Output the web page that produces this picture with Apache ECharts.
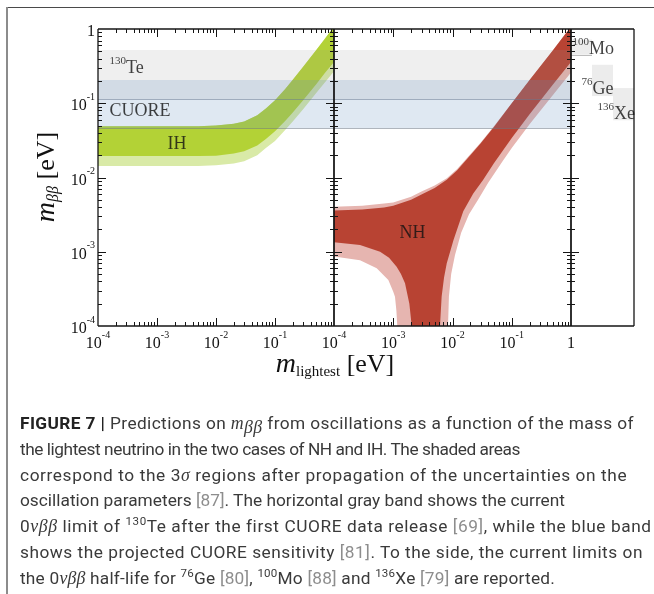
<!DOCTYPE html>
<html><head><meta charset="utf-8">
<script src="https://cdn.jsdelivr.net/npm/echarts@6/dist/echarts.min.js"></script>
<style>
html,body{margin:0;padding:0;background:#fff;}
#wrap{position:relative;width:654px;height:594px;overflow:hidden;background:#fff;}
#chart{position:absolute;left:0;top:0;width:654px;height:594px;}
#frameTop{position:absolute;left:7px;top:7px;width:647px;height:1px;background:#4a4a4a;}
#frameLeft{position:absolute;left:6px;top:7px;width:2px;height:587px;background:#8c8c8c;}
.ln{position:absolute;left:20px;white-space:nowrap;height:20px;line-height:20px;font-family:Roboto,sans-serif;font-size:16.5px;color:#3a3a3a;}
.ln b{color:#222;}
.ref{color:#8d8d8d;}
.mt{font-family:'Liberation Serif',serif;font-style:italic;font-size:1.03em;}
sup{font-size:0.67em;vertical-align:0;position:relative;top:-7px;}
sub{font-size:0.73em;vertical-align:0;position:relative;top:4px;}
</style></head>
<body>
<div id="wrap">
<div id="chart"></div>
<div id="frameTop"></div><div id="frameLeft"></div>
<div class="ln" style="top:413px"><b>FIGURE 7 |</b> Predictions on <i class="mt">m</i><sub class="mt">ββ</sub> from oscillations as a function of the mass of</div>
<div class="ln" style="top:439px">the lightest neutrino in the two cases of NH and IH. The shaded areas</div>
<div class="ln" style="top:464.5px">correspond to the 3<i class="mt">σ</i> regions after propagation of the uncertainties on the</div>
<div class="ln" style="top:490px">oscillation parameters <span class="ref">[87]</span>. The horizontal gray band shows the current</div>
<div class="ln" style="top:516px">0<i class="mt">νββ</i> limit of <sup>130</sup>Te after the first CUORE data release <span class="ref">[69]</span>, while the blue band</div>
<div class="ln" style="top:542px">shows the projected CUORE sensitivity <span class="ref">[81]</span>. To the side, the current limits on</div>
<div class="ln" style="top:567.5px">the 0<i class="mt">νββ</i> half-life for <sup>76</sup>Ge <span class="ref">[80]</span>, <sup>100</sup>Mo <span class="ref">[88]</span> and <sup>136</sup>Xe <span class="ref">[79]</span> are reported.</div>
</div>
<script>
// ---------------- data ----------------
const X_MIN = 1e-4, X_MAX = 1, Y_MIN = 1e-4, Y_MAX = 1;

// Inverted hierarchy (left panel)
const ihX          = [1e-4, 1e-3, 5e-3, 1e-2, 2e-2, 3e-2, 5e-2, 7e-2, 0.1, 0.15, 0.2, 0.3, 0.5, 0.7, 1];
const ihUpper      = [0.049, 0.049, 0.049, 0.050, 0.053, 0.057, 0.069, 0.085, 0.11, 0.157, 0.207, 0.31, 0.52, 0.74, 1.08];
const ihDarkLower  = [0.0195, 0.0195, 0.0195, 0.0197, 0.021, 0.0225, 0.027, 0.033, 0.042, 0.058, 0.075, 0.11, 0.18, 0.255, 0.36];
const ihLightLower = [0.0143, 0.0143, 0.0143, 0.0146, 0.0154, 0.0166, 0.020, 0.025, 0.031, 0.044, 0.057, 0.083, 0.137, 0.19, 0.27];

// Normal hierarchy (middle panel)
const nhUpperX     = [1e-4, 3e-4, 7e-4, 1e-3, 2e-3, 3e-3, 5e-3, 8e-3, 1.2e-2, 2e-2, 3e-2, 5e-2, 0.1, 0.2, 0.5, 1];
const nhDarkUpper  = [3.6e-3, 3.7e-3, 3.95e-3, 4.15e-3, 5.0e-3, 5.9e-3, 7.2e-3, 9.3e-3, 0.0125, 0.020, 0.029, 0.048, 0.1, 0.205, 0.52, 1.08];
const nhLightUpper = [4.05e-3, 4.15e-3, 4.45e-3, 4.6e-3, 5.5e-3, 6.5e-3, 7.8e-3, 9.8e-3, 0.013, 0.0205, 0.0295, 0.049, 0.1, 0.205, 0.52, 1.08];
const nhDarkLowerX = [1e-4, 2.75e-4, 6e-4, 8.5e-4, 1.14e-3, 1.35e-3, 1.58e-3, 1.87e-3, 2.05e-3, 6.15e-3, 6.56e-3, 7.2e-3, 8e-3, 1.04e-2, 1.52e-2, 2.24e-2, 3.3e-2, 5e-2, 0.1, 0.2, 0.5, 1];
const nhDarkLowerY = [1.34e-3, 1.23e-3, 1.0e-3, 8.3e-4, 6.3e-4, 5.0e-4, 3.76e-4, 2.0e-4, 1e-4, 1e-4, 2.5e-4, 4.5e-4, 7e-4, 1.44e-3, 3.5e-3, 6.1e-3, 9.3e-3, 0.0155, 0.034, 0.071, 0.18, 0.36];
const nhLightLowerX = [1e-4, 2.75e-4, 5.26e-4, 8.26e-4, 1.0e-3, 1.07e-3, 1.13e-3, 1.17e-3, 8.4e-3, 8.7e-3, 9.5e-3, 1.1e-2, 1.4e-2, 1.9e-2, 2.7e-2, 4e-2, 7e-2, 0.1, 0.2, 0.5, 1];
const nhLightLowerY = [8.6e-4, 7.7e-4, 6.0e-4, 4.17e-4, 2.9e-4, 2.48e-4, 1.6e-4, 1e-4, 1e-4, 2.5e-4, 5e-4, 9e-4, 1.8e-3, 3.2e-3, 5.0e-3, 8.5e-3, 0.0165, 0.025, 0.052, 0.13, 0.26];

// Horizontal bands (130Te limit, CUORE sensitivity)
const bandNames  = ['130Te limit', 'CUORE sensitivity'];
const bandLow    = [0.114, 0.0465];
const bandHigh   = [0.52, 0.205];
const bandColors = ['rgba(150,150,150,0.15)', 'rgba(95,140,190,0.2)'];

// Isotope limits (right panel)
const isoNames = ['100Mo', '76Ge', '136Xe'];
const isoSlot  = [0, 1, 2];
const isoLow   = [0.45, 0.125, 0.059];
const isoHigh  = [0.72, 0.33, 0.16];

// Annotations
const annoText  = ['{s|130}{t|Te}', '{t|CUORE}', '{t|IH}', '{t|NH}', '{s|100}{t|Mo}', '{s|76}{t|Ge}', '{s|136}{t|Xe}'];
const annoPanel = [0, 0, 0, 1, 2, 2, 2];
const annoX     = [1.6e-4, 1.6e-4, 1.53e-3, 1.3e-3, 0.1, 0.52, 1.29];
const annoY     = [0.31, 0.081, 0.029, 1.85e-3, 0.555, 0.16, 0.0739];

// ---------------- styles ----------------
const COL = {ihDark:'#b3d236', ihLight:'#d9eaa7', nhDark:'#b84333', nhLight:'#e6b5b0', axis:'#151515'};
const SERIF = "'Liberation Serif', 'DejaVu Serif', serif";
const tickRich = {
  b:{fontFamily:SERIF, fontSize:16, lineHeight:22, color:'#111', verticalAlign:'bottom'},
  s:{fontFamily:SERIF, fontSize:10, lineHeight:10, color:'#111', verticalAlign:'top'}
};
function tickFmt(hideOne){
  return function(v){
    const e = Math.round(Math.log10(v));
    if (e === 0) return hideOne ? '' : '{b|1}';
    return '{b|10}{s|' + e + '}';
  };
}

const chart = echarts.init(document.getElementById('chart'), null, {renderer:'canvas'});

const grids = [
  {left:98, top:29, width:236, height:297},
  {left:334, top:29, width:237, height:297},
  {left:571, top:29, width:63, height:297}
];
function logX(g, hideOne){
  return {gridIndex:g, type:'log', logBase:10, min:X_MIN, max:X_MAX,
    axisLine:{show:false}, axisTick:{show:false}, splitLine:{show:false}, minorTick:{show:false},
    axisLabel:{show:true, formatter:tickFmt(hideOne), rich:tickRich, margin:4, showMinLabel:true, showMaxLabel:true}};
}
function logY(g, showLabel){
  return {gridIndex:g, type:'log', logBase:10, min:Y_MIN, max:Y_MAX,
    axisLine:{show:false}, axisTick:{show:false}, splitLine:{show:false},
    axisLabel:{show:showLabel, formatter:tickFmt(false), rich:tickRich, margin:3, showMinLabel:true, showMaxLabel:true}};
}

function polygonSeries(g, xu, yu, xl, yl, color, z){
  return {type:'custom', xAxisIndex:g, yAxisIndex:g, clip:true, silent:true, z:z,
    data:[[xu[0], yu[0]]],
    renderItem:function(params, api){
      const pts = [];
      for (let i = 0; i < xu.length; i++) pts.push(api.coord([xu[i], yu[i]]));
      for (let i = xl.length - 1; i >= 0; i--) pts.push(api.coord([xl[i], yl[i]]));
      return {type:'polygon', shape:{points:pts}, style:{fill:color}};
    }};
}

function bandSeries(g){
  return {type:'custom', xAxisIndex:g, yAxisIndex:g, clip:true, silent:true, z:4,
    data: bandNames.map((n, i) => [X_MIN, bandLow[i], bandHigh[i], i]),
    renderItem:function(params, api){
      const i = api.value(3);
      const p1 = api.coord([X_MIN, api.value(2)]);
      const p2 = api.coord([X_MAX, api.value(1)]);
      const yb = Math.round(p2[1]) + 0.5;
      return {type:'group', children:[
        {type:'rect', shape:{x:p1[0], y:p1[1], width:p2[0]-p1[0], height:p2[1]-p1[1]}, style:{fill:bandColors[i]}},
        {type:'line', shape:{x1:p1[0], y1:yb, x2:p2[0], y2:yb}, style:{stroke:'rgba(110,120,135,0.55)', lineWidth:1}}
      ]};
    }};
}

function isoSeries(){
  return {type:'custom', xAxisIndex:2, yAxisIndex:2, clip:true, silent:true, z:4,
    data: isoNames.map((n, i) => [isoSlot[i], isoLow[i], isoHigh[i], i]),
    renderItem:function(params, api){
      const s = api.value(0);
      const p1 = api.coord([s, api.value(2)]);
      const p2 = api.coord([s + 1, api.value(1)]);
      const ch = [{type:'rect', shape:{x:p1[0], y:p1[1], width:p2[0]-p1[0], height:p2[1]-p1[1]}, style:{fill:'#ececec'}}];
      if (api.value(3) === 0) {
        const yb = Math.round(p2[1]) + 0.5;
        ch.push({type:'line', shape:{x1:p1[0], y1:yb, x2:p2[0], y2:yb}, style:{stroke:'#bdbdbd', lineWidth:1}});
      }
      return {type:'group', children:ch};
    }};
}

function frameSeries(g, cfg){
  return {type:'custom', xAxisIndex:g, yAxisIndex:g, clip:false, silent:true, z:10,
    data:[[cfg.xMin, Y_MIN]],
    renderItem:function(params, api){
      const bl = api.coord([cfg.xMin, Y_MIN]), tr = api.coord([cfg.xMax, Y_MAX]);
      const L = bl[0], B = bl[1], R = tr[0], T = tr[1];
      const ch = [];
      const st = {stroke:COL.axis, lineWidth:1.3};
      const tk = {stroke:COL.axis, lineWidth:1};
      const line = (x1, y1, x2, y2, s) => ch.push({type:'line', shape:{x1, y1, x2, y2}, style:s});
      line(L, T, R, T, st); line(L, B, R, B, st); line(L, T, L, B, st); line(R, T, R, B, st);
      for (let d = -4; d <= -1; d++) {
        for (let k = 1; k <= 9; k++) {
          const v = k * Math.pow(10, d);
          const len = k === 1 ? 8 : 4;
          if (k === 1 && d === -4) continue;
          if (cfg.xTicks) {
            const x = Math.round(api.coord([v, Y_MIN])[0]) + 0.5;
            line(x, B, x, B - len, tk); line(x, T, x, T + len, tk);
          }
          const y = Math.round(api.coord([cfg.xMin, v])[1]) + 0.5;
          if (cfg.leftTicks) line(L, y, L + len, y, tk);
          if (cfg.rightTicks) line(R, y, R - len, y, tk);
        }
      }
      return {type:'group', children:ch};
    }};
}

const annoRich = {
  t:{fontFamily:SERIF, fontSize:18, lineHeight:22, color:'#111', verticalAlign:'bottom'},
  s:{fontFamily:SERIF, fontSize:11, lineHeight:11, color:'#111', verticalAlign:'top'}
};
function annoSeries(g){
  const data = [];
  annoText.forEach((t, i) => { if (annoPanel[i] === g) data.push({value:[annoX[i], annoY[i]], t:t}); });
  return {type:'scatter', xAxisIndex:g, yAxisIndex:g, symbolSize:1, silent:true, z:20,
    itemStyle:{color:'rgba(0,0,0,0)'},
    label:{show:true, position:[0,0], align:'left', verticalAlign:'middle', formatter:p => p.data.t, rich:annoRich},
    data:data};
}

const option = {
  animation:false,
  backgroundColor:'transparent',
  grid: grids,
  xAxis:[logX(0, true), logX(1, false), {gridIndex:2, type:'value', min:0, max:3, show:false}],
  yAxis:[logY(0, true), logY(1, false), logY(2, false)],
  series:[
    polygonSeries(0, ihX, ihUpper, ihX, ihLightLower, COL.ihLight, 2),
    polygonSeries(0, ihX, ihUpper, ihX, ihDarkLower, COL.ihDark, 3),
    polygonSeries(1, nhUpperX, nhLightUpper, nhLightLowerX, nhLightLowerY, COL.nhLight, 2),
    polygonSeries(1, nhUpperX, nhDarkUpper, nhDarkLowerX, nhDarkLowerY, COL.nhDark, 3),
    bandSeries(0), bandSeries(1), isoSeries(),
    frameSeries(0, {xMin:X_MIN, xMax:X_MAX, xTicks:true, leftTicks:true, rightTicks:true}),
    frameSeries(1, {xMin:X_MIN, xMax:X_MAX, xTicks:true, leftTicks:true, rightTicks:true}),
    frameSeries(2, {xMin:0, xMax:3, xTicks:false, leftTicks:true, rightTicks:false}),
    annoSeries(0), annoSeries(1), annoSeries(2)
  ],
  graphic:[
    {type:'text', x:47, y:177, rotation:Math.PI/2, z:30,
      style:{text:'{m|m}{s|ββ}{u| [eV]}', align:'center', verticalAlign:'middle', textAlign:'center', textVerticalAlign:'middle',
        rich:{
          m:{fontFamily:SERIF, fontStyle:'italic', fontSize:28, lineHeight:30, fill:'#111'},
          s:{fontFamily:SERIF, fontStyle:'italic', fontSize:16, lineHeight:16, fill:'#111', verticalAlign:'bottom'},
          u:{fontFamily:SERIF, fontSize:26, lineHeight:30, fill:'#111'}
        }}},
    {type:'text', x:335, y:365, z:30,
      style:{text:'{m|m}{s|lightest}{u| [eV]}', align:'center', verticalAlign:'middle', textAlign:'center', textVerticalAlign:'middle',
        rich:{
          m:{fontFamily:SERIF, fontStyle:'italic', fontSize:28, lineHeight:30, fill:'#111'},
          s:{fontFamily:SERIF, fontSize:15, lineHeight:15, fill:'#111', verticalAlign:'bottom'},
          u:{fontFamily:SERIF, fontSize:26, lineHeight:30, fill:'#111'}
        }}}
  ]
};
chart.setOption(option);

// fit caption: one common font size from the median width ratio, then a small per-line letter spacing
const captionEnds = [634, 492, 636, 565, 651, 643, 555];
function fitCaption(){
  const lines = Array.from(document.querySelectorAll('.ln'));
  lines.forEach(el => { el.style.letterSpacing = '0px'; el.style.fontSize = '16.5px'; });
  const ratios = lines.map((el, i) => (captionEnds[i] - 20) / el.getBoundingClientRect().width).sort((a, b) => a - b);
  let fs = 16.5 * ratios[Math.floor(ratios.length / 2)];
  fs = Math.max(16.5, Math.min(17.3, fs));
  lines.forEach((el, i) => {
    el.style.fontSize = fs.toFixed(2) + 'px';
    const w = el.getBoundingClientRect().width;
    const n = el.textContent.length;
    let ls = (captionEnds[i] - 20 - w) / n;
    ls = Math.max(-0.45, Math.min(0.6, ls));
    el.style.letterSpacing = ls.toFixed(3) + 'px';
  });
}
fitCaption();
if (document.fonts && document.fonts.load) {
  Promise.all([document.fonts.load('16.5px Roboto'), document.fonts.load('bold 16.5px Roboto'),
               document.fonts.load('italic 17px "Liberation Serif"')]).then(fitCaption, fitCaption);
  document.fonts.ready.then(fitCaption);
}
</script>
</body></html>
